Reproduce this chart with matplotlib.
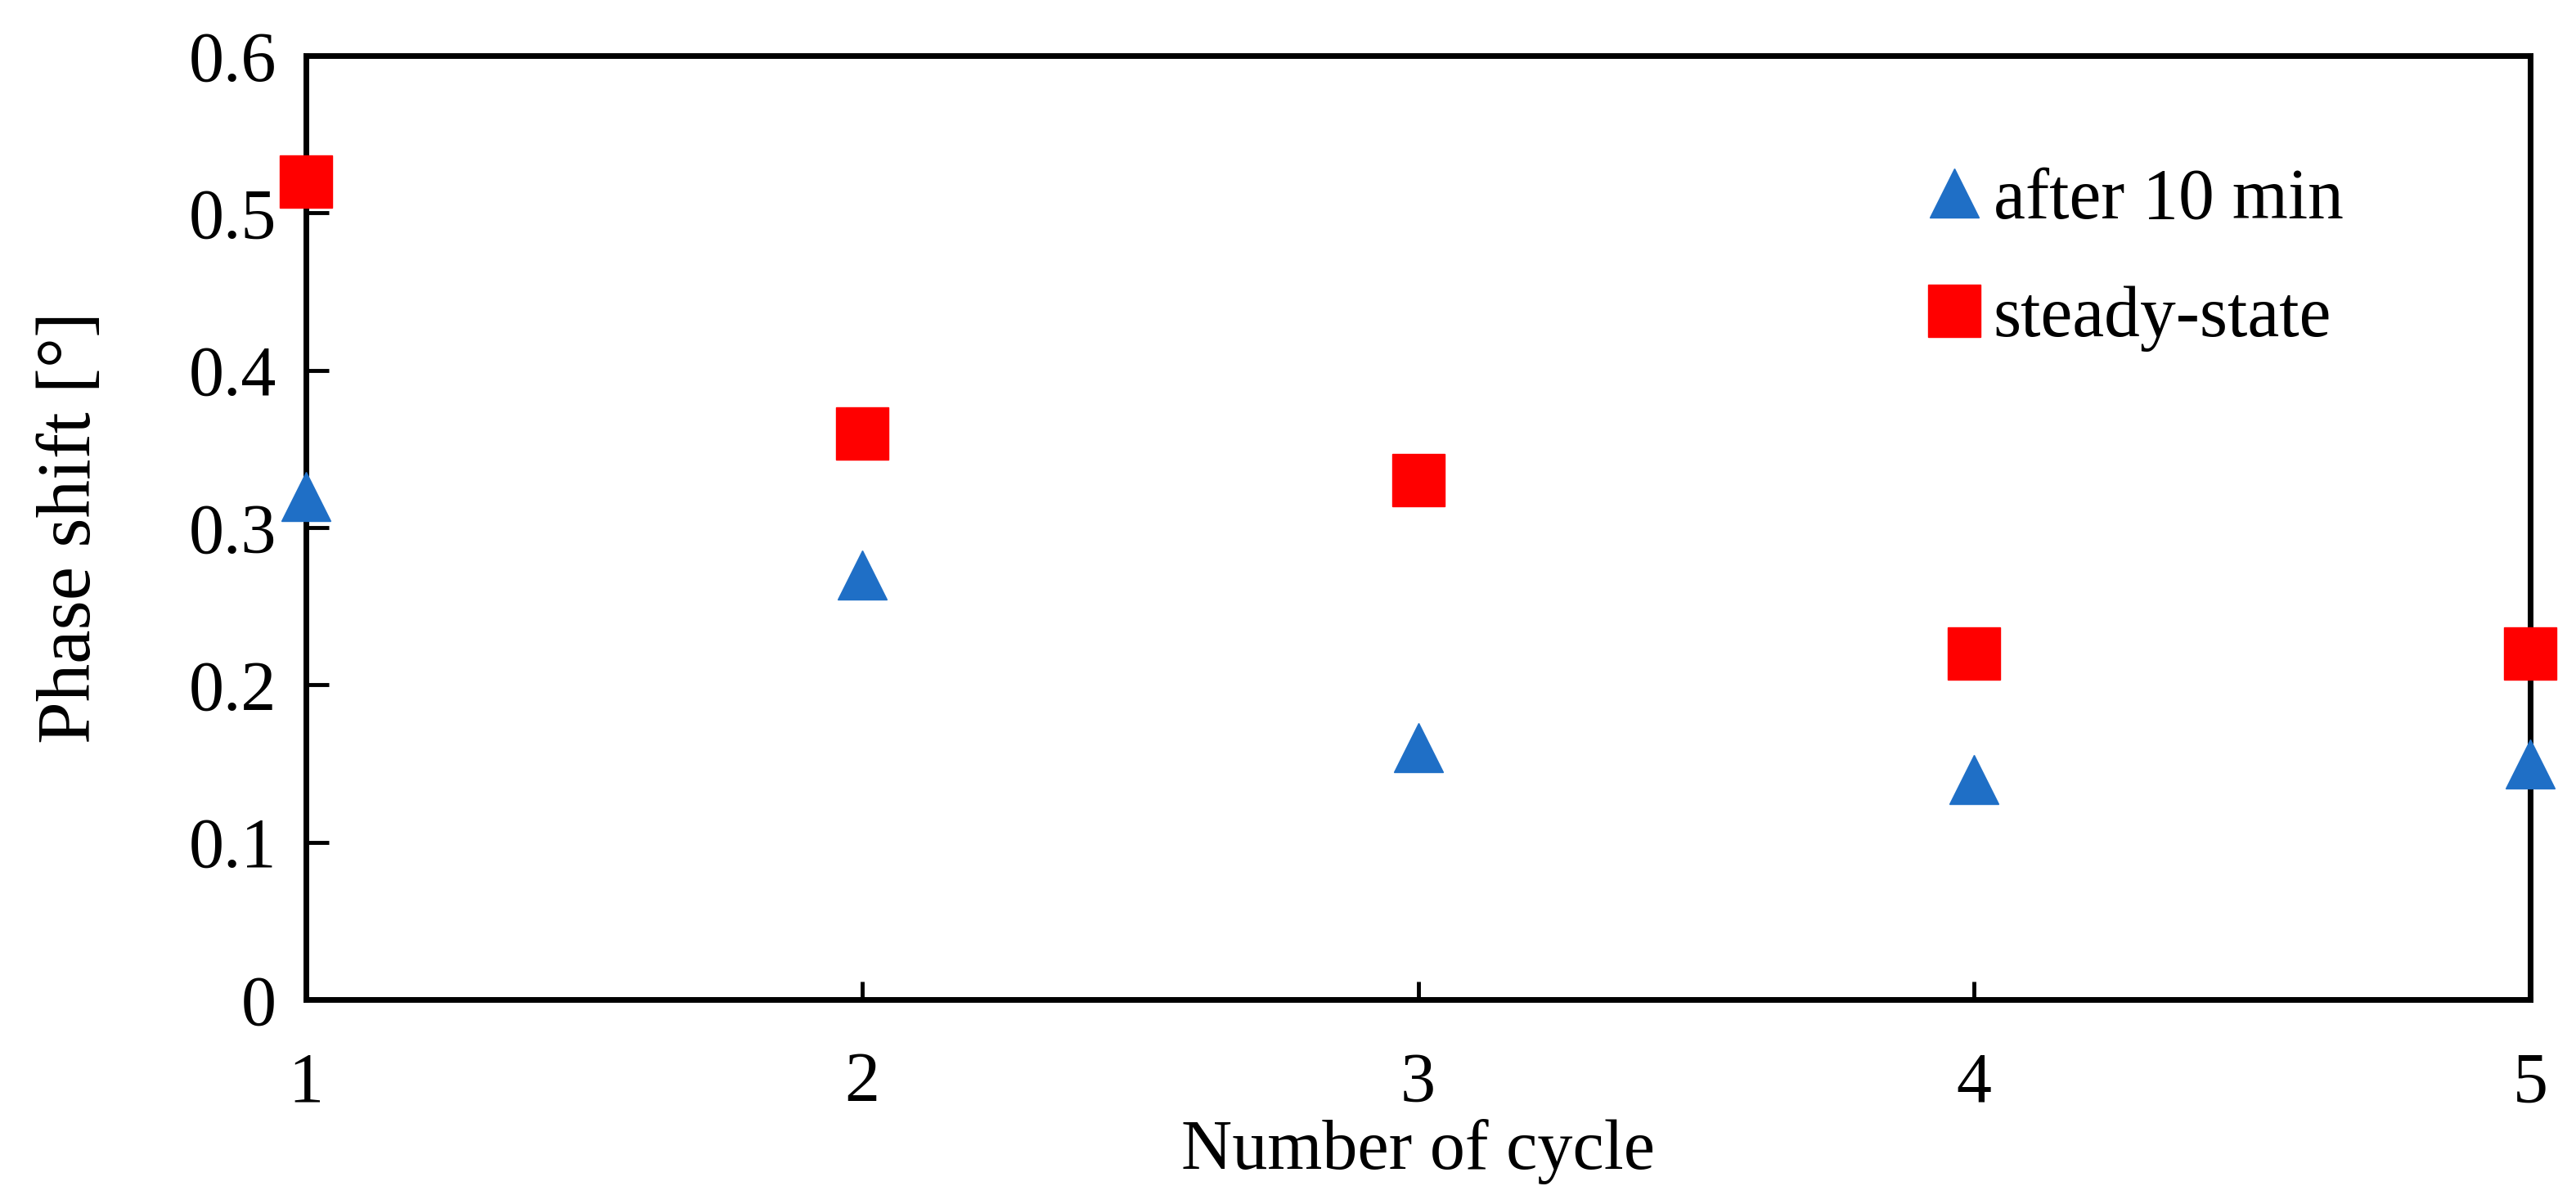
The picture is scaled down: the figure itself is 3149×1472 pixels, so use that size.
import matplotlib
matplotlib.use('Agg')
import matplotlib.pyplot as plt

# Data
cycles = [1, 2, 3, 4, 5]
after_10_min = [0.32, 0.27, 0.16, 0.14, 0.15]
steady_state = [0.52, 0.36, 0.33, 0.22, 0.22]

y_ticks = [0, 0.1, 0.2, 0.3, 0.4, 0.5, 0.6]
y_tick_labels = ['0', '0.1', '0.2', '0.3', '0.4', '0.5', '0.6']

plt.rcParams['font.family'] = ['Liberation Serif', 'DejaVu Serif']

fig = plt.figure(figsize=(31.49, 14.72), dpi=100)
ax = fig.add_axes([0.1188, 0.1698, 0.8634, 0.7840])

ax.plot(cycles, after_10_min, linestyle='none', marker='^', markersize=43,
        color='#1F6FC6', label='after 10 min', clip_on=False, zorder=5)
ax.plot(cycles, steady_state, linestyle='none', marker='s', markersize=46,
        color='#FF0000', label='steady-state', clip_on=False, zorder=5)

ax.set_xlim(1, 5)
ax.set_ylim(0, 0.6)
ax.set_xticks(cycles)
ax.set_yticks(y_ticks)
ax.set_yticklabels(y_tick_labels)

for s in ax.spines.values():
    s.set_linewidth(5)
ax.tick_params(axis='x', direction='in', length=16, width=3.5, labelsize=62, pad=46)
ax.tick_params(axis='y', direction='in', length=20, width=3.5, labelsize=62, pad=26)

ax.set_xlabel('Number of cycle', fontsize=62, labelpad=2)
ax.set_ylabel('Phase shift [°]', fontsize=67, labelpad=72)

ax.legend(loc='upper left', bbox_to_anchor=(0.712, 0.912), frameon=False,
          fontsize=63, handletextpad=0.05, labelspacing=0.72, handlelength=1.0,
          borderaxespad=0)

plt.savefig('out.png', dpi=100)
plt.close()
